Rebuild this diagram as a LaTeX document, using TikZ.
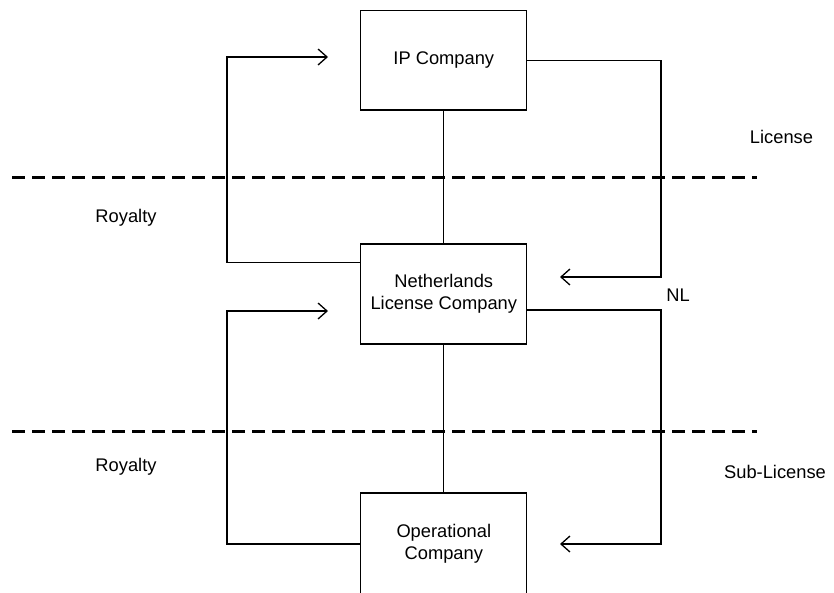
\documentclass[tikz,border=0pt]{standalone}
\usepackage{fontspec}
\setmainfont{Liberation Sans}
\usetikzlibrary{arrows.meta,calc}
\begin{document}
\begin{tikzpicture}[x=1pt,y=-1pt,
  box/.style={draw, line width=1.3pt, minimum width=166pt, minimum height=100pt, align=center, inner sep=0pt, font=\fontsize{18.3}{22}\selectfont},
  lbl/.style={font=\fontsize{18.3}{22}\selectfont, inner sep=0pt},
  conn/.style={line width=1.3pt},
  flow/.style={line width=1.3pt, -{Straight Barb[length=9pt,width=16pt,line width=1.3pt]}},
  sep/.style={line width=3pt, dash pattern=on 13pt off 7pt}]
\useasboundingbox (0,0) rectangle (834,592);
\clip (0,0) rectangle (834,592);
% boxes
\node[box, minimum height=99.3pt] (ip) at (443.8,60.3) {IP Company};
\node[box] (nl) at (443.8,294) {Netherlands\\License Company};
\node[box, minimum height=102pt] (op) at (443.8,544) {Operational\\Company};
% separators
\coordinate (s1a) at (12,177);
\coordinate (s1b) at (757,177);
\coordinate (s2a) at (12,431);
\coordinate (s2b) at (757,431);
\draw[sep] (s1a) -- (s1b);
\draw[sep] (s2a) -- (s2b);
% vertical links
\draw[conn] (ip.south) -- (nl.north);
\draw[conn] (nl.south) -- (op.north);
% flows
\coordinate (licEnd) at (560,277);
\coordinate (roy1End) at (328,57);
\coordinate (subEnd) at (560,544);
\coordinate (roy2End) at (328,311);
\draw[flow] (ip.east) -| (661,277) -- (licEnd);
\draw[flow] ($(nl.north west)+(0,19)$) -| (227,57) -- (roy1End);
\draw[flow] ($(nl.north east)+(0,66.7)$) -| (661,544) -- (subEnd);
\draw[flow] (op.west) -| (227,311) -- (roy2End);
% labels
\node[lbl] (tLic) at (781.5,137) {License};
\node[lbl] (tNL) at (678,295) {NL};
\node[lbl] (tSub) at (775,472) {Sub-License};
\node[lbl] (tRoy1) at (126,218) {Royalty};
\node[lbl] (tRoy2) at (126,467) {Royalty};
\end{tikzpicture}
\end{document}
